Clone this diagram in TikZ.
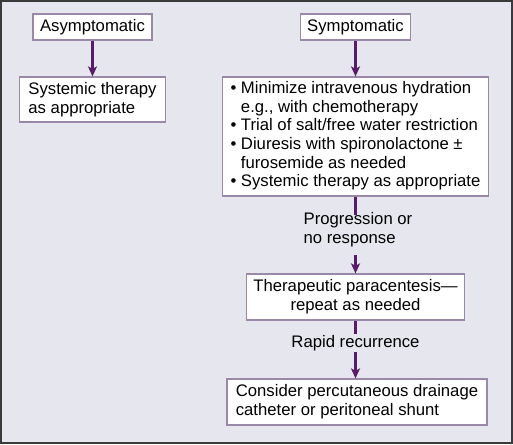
\documentclass[tikz,border=0pt]{standalone}
\usepackage{fontspec}
\setmainfont{Liberation Sans}
\usetikzlibrary{arrows.meta}
\definecolor{bgc}{HTML}{E6E6EE}
\definecolor{boxc}{HTML}{9A88A8}
\definecolor{arrc}{HTML}{5A1A6C}
\definecolor{framec}{HTML}{3A3A3A}
\hyphenpenalty=10000
\exhyphenpenalty=10000
\tikzset{
  txt/.style={font=\fontsize{16.7}{18.7}\selectfont},
  box/.style={txt, draw=boxc, line width=1.2pt, fill=white, inner ysep=2pt},
  lab/.style={txt, inner sep=1.5pt, align=left},
  arr/.style={draw=arrc, line width=2.2pt, -{Stealth[length=10pt,width=9pt,inset=2.5pt]}},
  seg/.style={draw=arrc, line width=2.2pt}
}
\begin{document}
\begin{tikzpicture}[x=1pt,y=-1pt]
\fill[bgc] (0,0) rectangle (513,444);
\draw[framec, line width=2pt] (1,1) rectangle (512,443);
\useasboundingbox (0,0) rectangle (513,444);

\node[box, minimum width=119, minimum height=26] (asym) at (92.5,27) {Asymptomatic};
\node[box, minimum width=146, minimum height=45, align=left] (sys) at (92.5,99.5) {Systemic therapy\\as appropriate};

\node[box, minimum width=110, minimum height=26] (symp) at (355.5,27) {Symptomatic};
\node[box, minimum width=266, minimum height=119, inner xsep=0pt] (big) at (355.5,136.5) {%
\begin{tabular}{@{}l@{\hspace{4.6pt}}l@{}}
\textbullet & Minimize intravenous hydration\\
 & e.g., with chemotherapy\\
\textbullet & Trial of salt/free water restriction\\
\textbullet & Diuresis with spironolactone ±\\
 & furosemide as needed\\
\textbullet & Systemic therapy as appropriate
\end{tabular}};

\node[lab, anchor=west] (prog) at (302,230) {Progression or\\no response};
\node[box, minimum width=218, minimum height=46, align=center] (thera) at (355.5,297) {Therapeutic paracentesis---\\repeat as needed};
\node[lab] (rapid) at (355.5,343) {Rapid recurrence};
\node[box, minimum width=260, minimum height=46, align=left] (cons) at (357,402) {Consider percutaneous drainage\\catheter or peritoneal shunt};

\coordinate (p1) at (355.5,215);
\coordinate (p2) at (355.5,255);
\coordinate (r1) at (355.5,334);
\coordinate (r2) at (355.5,352);

\draw[arr] (asym.south) -- (sys.north);
\draw[arr] (symp.south) -- (big.north);
\draw[seg] (big.south) -- (p1);
\draw[arr] (p2) -- (thera.north);
\draw[seg] (thera.south) -- (r1);
\draw[arr] (r2) -- (cons.north -| r2);
\end{tikzpicture}
\end{document}
